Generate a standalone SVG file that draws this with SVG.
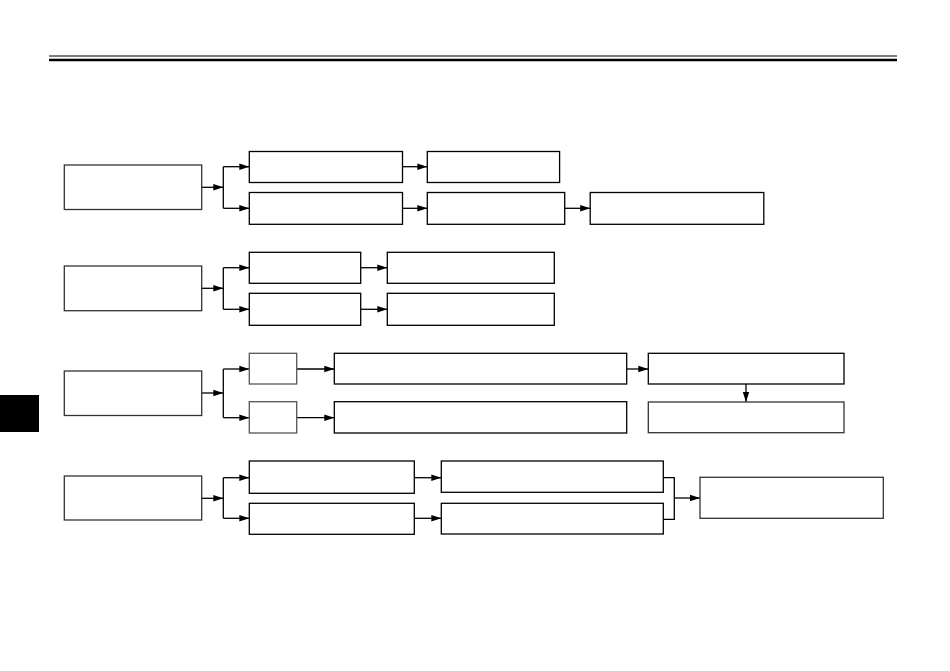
<svg xmlns="http://www.w3.org/2000/svg" width="950" height="671" viewBox="0 0 950 671">
<style>
.box{fill:#fff;stroke:#000;stroke-width:1.3}
.lbox{fill:#fff;stroke:#333;stroke-width:1.3}
.sbox{fill:#fff;stroke:#555;stroke-width:1.3}
.c{fill:none;stroke:#000;stroke-width:1.3}
.a{fill:none;stroke:#000;stroke-width:1.3;marker-end:url(#ah)}
</style>
<defs>
<marker id="ah" markerUnits="userSpaceOnUse" markerWidth="11" markerHeight="8" refX="10" refY="4" orient="auto">
<path d="M0,0.8 L10,4 L0,7.2 Z" fill="#000"/>
</marker>
</defs>
<rect width="950" height="671" fill="#fff"/>
<g id="header">
<line x1="49" y1="56" x2="897" y2="56" stroke="#555" stroke-width="1.5"/>
<line x1="49" y1="60" x2="897" y2="60" stroke="#000" stroke-width="2.6"/>
<rect x="0" y="395" width="39" height="37" fill="#000"/>
</g>
<g id="connectors">
<line class="a" x1="201.7" y1="187.3" x2="223.3" y2="187.3"/>
<polyline class="c" points="223.3,166.7 223.3,208.3"/>
<line class="a" x1="223.3" y1="166.7" x2="249.3" y2="166.7"/>
<line class="a" x1="223.3" y1="208.3" x2="249.3" y2="208.3"/>
<line class="a" x1="402.5" y1="166.7" x2="427.3" y2="166.7"/>
<line class="a" x1="402.5" y1="208.3" x2="427.3" y2="208.3"/>
<line class="a" x1="564.7" y1="208.3" x2="590.2" y2="208.3"/>
<line class="a" x1="201.7" y1="288.3" x2="223.3" y2="288.3"/>
<polyline class="c" points="223.3,267.7 223.3,309.3"/>
<line class="a" x1="223.3" y1="267.7" x2="249.3" y2="267.7"/>
<line class="a" x1="223.3" y1="309.3" x2="249.3" y2="309.3"/>
<line class="a" x1="360.7" y1="267.7" x2="387.3" y2="267.7"/>
<line class="a" x1="360.7" y1="309.3" x2="387.3" y2="309.3"/>
<line class="a" x1="201.7" y1="393" x2="223.3" y2="393"/>
<polyline class="c" points="223.3,369 223.3,417.7"/>
<line class="a" x1="223.3" y1="369" x2="249.3" y2="369"/>
<line class="a" x1="223.3" y1="417.7" x2="249.3" y2="417.7"/>
<line class="a" x1="296.7" y1="369" x2="334.3" y2="369" stroke="#666"/>
<line class="a" x1="296.7" y1="417.7" x2="334.3" y2="417.7" stroke="#444"/>
<line class="a" x1="626.7" y1="369" x2="648.3" y2="369"/>
<line class="a" x1="746" y1="384" x2="746" y2="402"/>
<line class="a" x1="201.7" y1="498.3" x2="223.3" y2="498.3"/>
<polyline class="c" points="223.3,477.7 223.3,518.3"/>
<line class="a" x1="223.3" y1="477.7" x2="249.3" y2="477.7"/>
<line class="a" x1="223.3" y1="518.3" x2="249.3" y2="518.3"/>
<line class="a" x1="414.3" y1="477.7" x2="441.3" y2="477.7"/>
<line class="a" x1="414.3" y1="518.3" x2="441.3" y2="518.3"/>
<polyline class="c" points="663.3,477.7 674.3,477.7 674.3,519.3 663.3,519.3"/>
<line class="a" x1="674.3" y1="498" x2="700" y2="498"/>
</g>
<g id="n1"><rect class="lbox" x="64.3" y="165" width="137.4" height="44.5"/></g>
<g id="n1a"><rect class="box" x="249.3" y="151.5" width="153.2" height="31"/></g>
<g id="n1b"><rect class="box" x="427.3" y="151.5" width="132.3" height="31"/></g>
<g id="n1c"><rect class="box" x="249.3" y="192.5" width="153.2" height="31.8"/></g>
<g id="n1d"><rect class="box" x="427.3" y="192.5" width="137.4" height="31.8"/></g>
<g id="n1e"><rect class="box" x="590.2" y="192.5" width="173.6" height="31.8"/></g>
<g id="n2"><rect class="lbox" x="64.3" y="266" width="137.4" height="44.7"/></g>
<g id="n2a"><rect class="box" x="249.3" y="252.3" width="111.4" height="31"/></g>
<g id="n2b"><rect class="box" x="387.3" y="252.3" width="167" height="31"/></g>
<g id="n2c"><rect class="box" x="249.3" y="293.3" width="111.4" height="32"/></g>
<g id="n2d"><rect class="box" x="387.3" y="293.3" width="167" height="32"/></g>
<g id="n3"><rect class="lbox" x="64.3" y="371" width="137.4" height="44.5"/></g>
<g id="n3a"><rect class="sbox" x="249.3" y="353.3" width="47.4" height="30.7"/></g>
<g id="n3b"><rect class="box" x="334.3" y="353.3" width="292.4" height="30.7"/></g>
<g id="n3c"><rect class="box" x="648.3" y="353.3" width="195.7" height="30.7"/></g>
<g id="n3d"><rect class="sbox" x="249.3" y="401.7" width="47.4" height="31.3"/></g>
<g id="n3e"><rect class="box" x="334.3" y="401.7" width="292.4" height="31.3"/></g>
<g id="n3f"><rect class="lbox" x="648.3" y="402" width="195.7" height="30.7"/></g>
<g id="n4"><rect class="lbox" x="64.3" y="476" width="137.4" height="44"/></g>
<g id="n4a"><rect class="box" x="249.3" y="461" width="165" height="32.3"/></g>
<g id="n4b"><rect class="box" x="249.3" y="503.3" width="165" height="31"/></g>
<g id="n4c"><rect class="box" x="441.3" y="461" width="222" height="31.3"/></g>
<g id="n4d"><rect class="box" x="441.3" y="503.3" width="222" height="30.7"/></g>
<g id="n4e"><rect class="lbox" x="700" y="477.3" width="183.3" height="41"/></g>
</svg>
